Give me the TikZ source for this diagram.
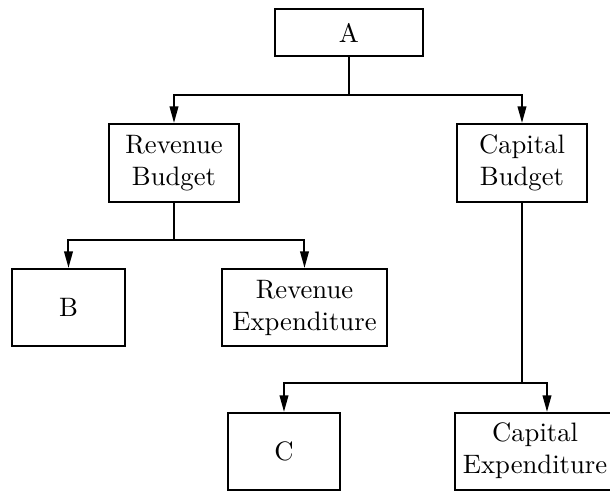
\documentclass[tikz,border=0pt]{standalone}
\usetikzlibrary{arrows.meta}
\begin{document}
\begin{tikzpicture}[x=0.375pt,y=-0.375pt,
  box/.style={draw, line width=0.75pt, align=center, inner sep=0pt},
  trunk/.style={line width=0.75pt},
  link/.style={line width=0.75pt, -{Triangle[length=6.2pt,width=3.2pt]}}]
\clip (0,0) rectangle (610,491);
% boxes
\node[box, minimum width=55.5pt, minimum height=17.6pt] (A) at (349,32.5) {A};
\node[box, minimum width=48.75pt, minimum height=29.25pt] (RB) at (174,163) {Revenue\\Budget};
\node[box, minimum width=48.75pt, minimum height=29.25pt] (CB) at (522,163) {Capital\\Budget};
\node[box, minimum width=42.4pt, minimum height=28.9pt] (B) at (68.5,307.5) {B};
\node[box, minimum width=61.9pt, minimum height=28.9pt] (RE) at (304.5,307.5) {Revenue\\Expenditure};
\node[box, minimum width=42pt, minimum height=28.9pt] (C) at (284,451.5) {C};
% the last box runs on past the right margin
\node[box, anchor=west, minimum height=28.9pt] (CE) at (454,451.5)
  {\begin{tabular}{@{\hspace{3pt}}c@{\hspace{8pt}}}Capital\\Expenditure\end{tabular}};
% junction points
\coordinate (ja) at (349,95);
\coordinate (jr) at (174,240);
\coordinate (jc) at (522,383);
\coordinate (cex) at (547,0);
% connectors
\draw[trunk] (A.south) -- (ja);
\draw[link] (ja) -| (RB.north);
\draw[link] (ja) -| (CB.north);
\draw[trunk] (RB.south) -- (jr);
\draw[link] (jr) -| (B.north);
\draw[link] (jr) -| (RE.north);
\draw[trunk] (CB.south) -- (jc);
\draw[link] (jc) -| (C.north);
\draw[link] (jc) -| (cex |- CE.north);
\end{tikzpicture}
\end{document}
